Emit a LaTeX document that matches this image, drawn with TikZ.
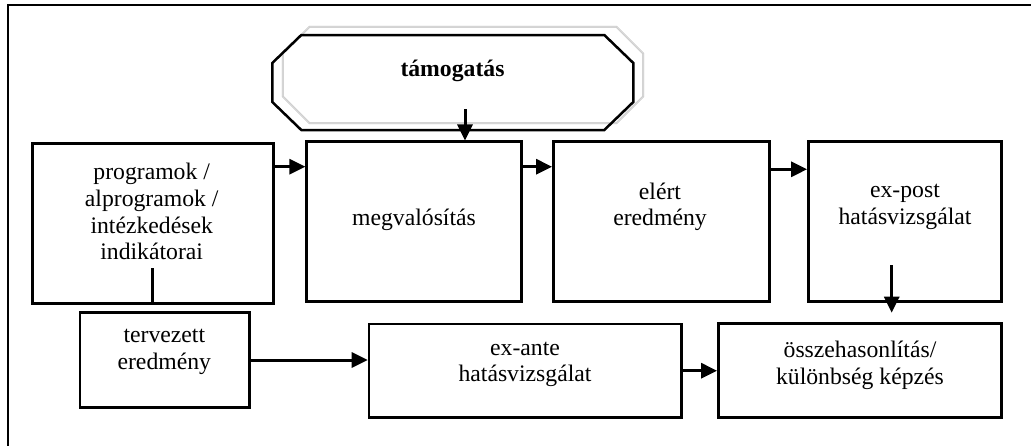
\documentclass[tikz,border=0pt]{standalone}
\usepackage{fontspec}
\setmainfont{Liberation Serif}
\usetikzlibrary{arrows.meta}
\tikzset{
  boxnode/.style={draw, line width=2.5pt, inner sep=0pt, anchor=center},
  txt/.style={align=center, inner sep=0pt, font=\fontsize{23.7}{26.7}\selectfont},
  arr/.style={line width=3pt, -{Triangle[length=16pt,width=15pt]}},
  plain/.style={line width=3pt},
  octo/.style={line width=2.5pt, line join=miter},
  octoshade/.style={draw=gray!55, line width=0.5pt, double=gray!20, double distance=0.8pt},
}
\begin{document}
\begin{tikzpicture}[x=1pt,y=-1pt]
\useasboundingbox (0,0) rectangle (1031,445);
\begin{scope}
\clip (0,0) rectangle (1031,445);
\draw[line width=2pt] (8,5) rectangle (1045,460);
\end{scope}
% octagon shadow and octagon
\draw[octoshade] (309.7,26.7) -- (616.3,26.7) -- (643.3,53.7) -- (643.3,96.3) -- (616.3,123.3) -- (309.7,123.3) -- (282.7,96.3) -- (282.7,53.7) -- cycle;
\draw[octo] (301.3,35) -- (604.3,35) -- (633.3,63) -- (633.3,102) -- (604.3,130) -- (301.3,130) -- (272.3,102) -- (272.3,63) -- cycle;
\node[txt, font=\fontsize{23.7}{26.7}\selectfont\bfseries] (sup) at (452.5,71) {támogatás};
% boxes
\node[boxnode, minimum width=241pt, minimum height=160pt] (b1) at (152.8,223.3) {};
\node[boxnode, minimum width=215pt, minimum height=160pt] (b2) at (414.2,221.7) {};
\node[boxnode, minimum width=216pt, minimum height=160pt] (b3) at (661.3,221.7) {};
\node[boxnode, minimum width=193.4pt, minimum height=160pt] (b4) at (905,221.7) {};
\node[boxnode, minimum width=283.4pt, minimum height=94pt] (b5) at (860,370.3) {};
\node[boxnode, minimum width=312.7pt, minimum height=93.3pt] (b6) at (525.3,370.7) {};
\node[boxnode, minimum width=169.3pt, minimum height=95pt] (b7) at (164.7,360.2) {};
% texts
\node[txt] (t1) at (151.7,211.7) {programok /\\alprogramok /\\intézkedések\\indikátorai};
\node[txt] (t2) at (414,220) {megvalósítás};
\node[txt] (t3) at (660,206.7) {elért\\eredmény};
\node[txt] (t4) at (905,206.7) {ex-post\\hatásvizsgálat};
\node[txt] (t5) at (860,365) {összehasonlítás/\\különbség képzés};
\node[txt] (t6) at (525,364.5) {ex-ante\\hatásvizsgálat};
\node[txt] (t7) at (164.3,351.7) {tervezett\\eredmény};
% helper coordinates
\coordinate (y12) at (0,166.7);
\coordinate (y34) at (0,169.3);
\coordinate (y76) at (0,360);
\coordinate (sa) at (465,109.3);
\coordinate (d4) at (891.7,265);
\coordinate (d5) at (891.7,312.7);
\coordinate (l1) at (152.7,268.3);
% connectors
\draw[arr] (sa) -- (sa |- b2.north);
\draw[arr] (b1.east |- y12) -- (b2.west |- y12);
\draw[arr] (b2.east |- y12) -- (b3.west |- y12);
\draw[arr] (b3.east |- y34) -- (b4.west |- y34);
\draw[arr] (d4) -- (d5);
\draw[arr] (b7.east |- y76) -- (b6.west |- y76);
\draw[arr] (b6.east) -- (b5.west |- b6.east);
\draw[plain] (l1) -- (l1 |- b1.south);
\end{tikzpicture}
\end{document}
